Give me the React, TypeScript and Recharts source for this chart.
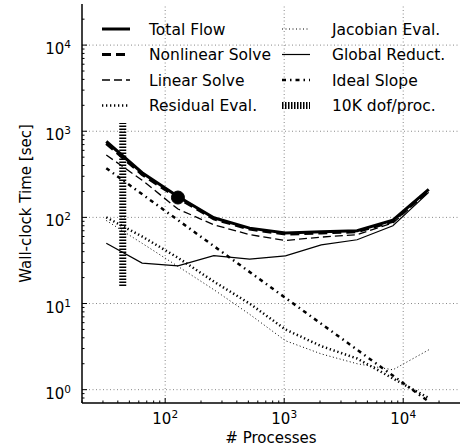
import { LineChart, Line, XAxis, YAxis, ReferenceLine, ReferenceDot, Legend } from 'recharts'

// process counts (x) and wall-clock times in seconds (y)
const PROCS = [32, 64, 128, 256, 512, 1024, 2048, 4096, 8192, 16384]
const TOTAL_FLOW = [760, 330, 175, 99, 75, 66, 68, 70, 93, 212]
const NONLINEAR_SOLVE = [720, 315, 168, 96, 73, 64, 66, 68, 90, 208]
const LINEAR_SOLVE = [530, 270, 125, 82, 63, 54, 59, 63, 86, 200]
const RESIDUAL_EVAL = [100, 60, 34, 18, 10, 5.0, 3.2, 2.3, 1.35, 0.8]
const JACOBIAN_EVAL = [92, 50, 27, 14.5, 7.5, 3.7, 2.6, 2.0, 1.7, 2.9]
const GLOBAL_REDUCT = [50, 29.5, 27.4, 36, 32.8, 35.7, 48, 55, 80, 195]
const IDEAL_PROCS = [32, 16384]
const IDEAL_SLOPE = [372, 0.727]
const DOF_PROCS = [44, 44]
const DOF_TIME = [16, 1250]
const MARKER_PROCS = 128
const MARKER_TIME = 170

const X_MAJOR = [100, 1000, 10000]
const X_TICKS = [20, 30, 40, 50, 60, 70, 80, 90, 100, 200, 300, 400, 500, 600, 700, 800, 900,
  1000, 2000, 3000, 4000, 5000, 6000, 7000, 8000, 9000, 10000, 20000]
const Y_MAJOR = [1, 10, 100, 1000, 10000]
const Y_TICKS = [0.8, 0.9, 1, 2, 3, 4, 5, 6, 7, 8, 9, 10, 20, 30, 40, 50, 60, 70, 80, 90,
  100, 200, 300, 400, 500, 600, 700, 800, 900, 1000, 2000, 3000, 4000, 5000, 6000, 7000, 8000, 9000,
  10000, 20000]

const FONT = 'DejaVu Sans'

const toRows = (xs: number[], ys: number[]) => xs.map((p, i) => ({ p, t: ys[i] }))

const SERIES = [
  { name: 'Total Flow', data: toRows(PROCS, TOTAL_FLOW), width: 3, dash: undefined },
  { name: 'Nonlinear Solve', data: toRows(PROCS, NONLINEAR_SOLVE), width: 3, dash: '9 5' },
  { name: 'Linear Solve', data: toRows(PROCS, LINEAR_SOLVE), width: 1.3, dash: '8 4' },
  { name: 'Residual Eval.', data: toRows(PROCS, RESIDUAL_EVAL), width: 2.5, dash: '1.3 2.7' },
  { name: 'Jacobian Eval.', data: toRows(PROCS, JACOBIAN_EVAL), width: 1, dash: '1 2.5' },
  { name: 'Global Reduct.', data: toRows(PROCS, GLOBAL_REDUCT), width: 1.2, dash: undefined },
  { name: 'Ideal Slope', data: toRows(IDEAL_PROCS, IDEAL_SLOPE), width: 2.5, dash: '4 4 1.5 4' },
  { name: '10K dof/proc.', data: toRows(DOF_PROCS, DOF_TIME), width: 7, dash: '1.5 1.5' },
]

const Pow = ({ x, y, v, anchor }: any) => (
  <text x={x} y={y} textAnchor={anchor} fontFamily={FONT} fontSize={15} fill="#000">
    10<tspan dy={-6} fontSize={10.5}>{Math.round(Math.log10(v))}</tspan>
  </text>
)

const isMajor = (list: number[], v: number) => list.some((m) => Math.abs(m - v) < 1e-9)

function BottomTick({ x, y, payload }: any) {
  const major = isMajor(X_MAJOR, payload.value)
  return (
    <g>
      <line x1={x} x2={x} y1={y} y2={y - (major ? 5 : 2.5)} stroke="#000" />
      {major && <Pow x={x} y={y + 21} v={payload.value} anchor="middle" />}
    </g>
  )
}

function TopTick({ x, y, payload }: any) {
  const major = isMajor(X_MAJOR, payload.value)
  return <line x1={x} x2={x} y1={y} y2={y + (major ? 5 : 2.5)} stroke="#000" />
}

function LeftTick({ x, y, payload }: any) {
  const major = isMajor(Y_MAJOR, payload.value)
  return (
    <g>
      <line x1={x} x2={x + (major ? 5 : 2.5)} y1={y} y2={y} stroke="#000" />
      {major && <Pow x={x - 11} y={y + 9} v={payload.value} anchor="end" />}
    </g>
  )
}

function RightTick({ x, y, payload }: any) {
  const major = isMajor(Y_MAJOR, payload.value)
  return <line x1={x} x2={x - (major ? 5 : 2.5)} y1={y} y2={y} stroke="#000" />
}

function LegendBox() {
  return (
    <svg width={466} height={448} style={{ position: 'absolute', left: 0, top: 0 }}>
      {SERIES.map((s, i) => {
        const col = i < 4 ? 0 : 1
        const cy = 29 + (i % 4) * 25.5
        const hx = col ? 282 : 102
        const tx = col ? 332 : 149
        return (
          <g key={s.name}>
            <line
              x1={hx}
              x2={hx + 28}
              y1={cy}
              y2={cy}
              stroke="#000"
              strokeWidth={s.width}
              strokeDasharray={s.dash}
            />
            <text x={tx} y={cy + 5.5} fontFamily={FONT} fontSize={15.5} fill="#000">
              {s.name}
            </text>
          </g>
        )
      })}
    </svg>
  )
}

const axisLine = { stroke: '#000', strokeWidth: 1.5 }
const grid = { stroke: '#888', strokeDasharray: '1 2.5', strokeWidth: 1 }

export default function App() {
  return (
    <div style={{ position: 'absolute', left: 0, top: 0, background: '#fff' }}>
      <LineChart width={466} height={448} margin={{ top: 4, right: 6, bottom: 0, left: 0 }}>
        <XAxis
          xAxisId={0}
          dataKey="p"
          type="number"
          scale="log"
          domain={[20, 30000]}
          allowDataOverflow
          ticks={X_TICKS}
          interval={0}
          height={45}
          tickSize={0}
          tickMargin={0}
          tickLine={false}
          axisLine={axisLine}
          tick={<BottomTick />}
          label={{
            content: ({ viewBox }: any) => (
              <text x={viewBox.x + viewBox.width / 2} y={viewBox.y + 40} textAnchor="middle"
                fontFamily={FONT} fontSize={15} fill="#000">
                # Processes
              </text>
            ),
          }}
        />
        <XAxis
          xAxisId="top"
          orientation="top"
          dataKey="p"
          type="number"
          scale="log"
          domain={[20, 30000]}
          allowDataOverflow
          ticks={X_TICKS}
          interval={0}
          height={0}
          tickSize={0}
          tickMargin={0}
          tickLine={false}
          axisLine={axisLine}
          tick={<TopTick />}
        />
        <YAxis
          yAxisId={0}
          type="number"
          scale="log"
          domain={[0.7, 30000]}
          allowDataOverflow
          ticks={Y_TICKS}
          interval={0}
          width={82}
          tickSize={0}
          tickMargin={0}
          tickLine={false}
          axisLine={axisLine}
          tick={<LeftTick />}
          label={{
            content: ({ viewBox }: any) => {
              const cx = viewBox.x + 31
              const cy = viewBox.y + viewBox.height / 2
              return (
                <text x={cx} y={cy} transform={`rotate(-90 ${cx} ${cy})`} textAnchor="middle"
                  fontFamily={FONT} fontSize={15} fill="#000">
                  Wall-clock Time [sec]
                </text>
              )
            },
          }}
        />
        <YAxis
          yAxisId="right"
          orientation="right"
          type="number"
          scale="log"
          domain={[0.7, 30000]}
          allowDataOverflow
          ticks={Y_TICKS}
          interval={0}
          width={0}
          tickSize={0}
          tickMargin={0}
          tickLine={false}
          axisLine={axisLine}
          tick={<RightTick />}
        />
        {X_MAJOR.map((v) => (
          <ReferenceLine key={`gx${v}`} x={v} {...grid} />
        ))}
        {Y_MAJOR.map((v) => (
          <ReferenceLine key={`gy${v}`} y={v} {...grid} />
        ))}
        {SERIES.map((s) => (
          <Line
            key={s.name}
            name={s.name}
            data={s.data}
            dataKey="t"
            type="linear"
            stroke="#000"
            strokeWidth={s.width}
            strokeDasharray={s.dash}
            dot={false}
            activeDot={false}
            isAnimationActive={false}
          />
        ))}
        <ReferenceDot x={MARKER_PROCS} y={MARKER_TIME} r={6.5} fill="#000" stroke="#000" />
        <Legend
          layout="horizontal"
          verticalAlign="middle"
          align="center"
          content={() => <LegendBox />}
          wrapperStyle={{ position: 'absolute', left: 0, top: 0, width: 466, height: 448, pointerEvents: 'none' }}
        />
      </LineChart>
    </div>
  )
}
